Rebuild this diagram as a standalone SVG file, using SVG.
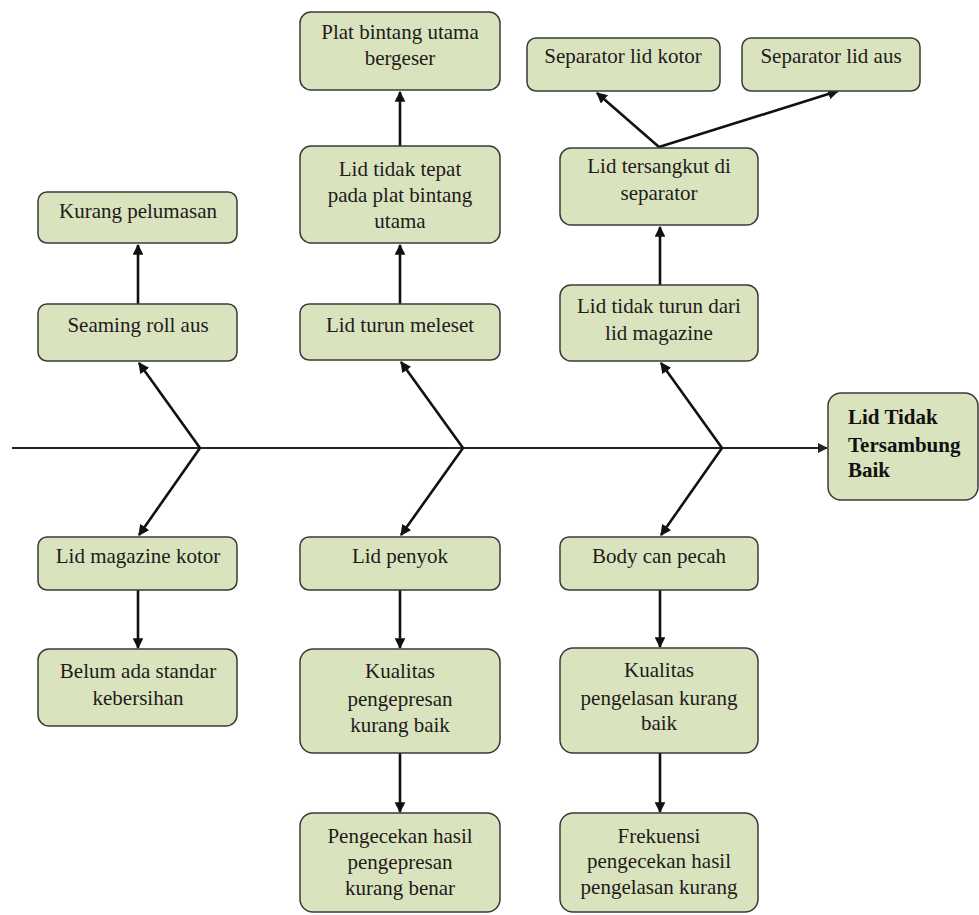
<svg xmlns="http://www.w3.org/2000/svg" width="979" height="915" viewBox="0 0 979 915">
<style>
.box{fill:#d9e4bf;stroke:#3a3a3a;stroke-width:1.5}
.t{font-family:"Liberation Serif","Times New Roman",serif;font-size:21px;fill:#231a1a;text-anchor:middle}
.tb{font-family:"Liberation Serif","Times New Roman",serif;font-size:21px;fill:#111;font-weight:bold}
.c{stroke:#111;stroke-width:2.6;fill:none;marker-end:url(#ah)}
.sp{stroke:#222;stroke-width:2;fill:none;marker-end:url(#ah2)}
</style>
<defs>
<marker id="ah" viewBox="0 0 10 10" refX="9" refY="5" markerWidth="4.2" markerHeight="4.2" orient="auto" markerUnits="strokeWidth">
<path d="M0,0 L10,5 L0,10 Z" fill="#111"/>
</marker>
<marker id="ah2" viewBox="0 0 10 10" refX="9" refY="5" markerWidth="5.5" markerHeight="5" orient="auto" markerUnits="strokeWidth">
<path d="M0,0 L10,5 L0,10 Z" fill="#222"/>
</marker>
</defs>
<rect width="979" height="915" fill="#fff"/>
<g id="connectors">
<line class="sp" x1="12" y1="448" x2="827" y2="448"/>
<polyline class="c" points="200,448 139,363" />
<polyline class="c" points="200,448 139,535" />
<polyline class="c" points="463,448 401,362" />
<polyline class="c" points="463,448 401,535" />
<polyline class="c" points="722,448 661,363" />
<polyline class="c" points="722,448 661,535" />
<line class="c" x1="138" y1="304" x2="138" y2="245"/>
<line class="c" x1="400" y1="304" x2="400" y2="245"/>
<line class="c" x1="400" y1="146" x2="400" y2="92"/>
<line class="c" x1="660" y1="285" x2="660" y2="227"/>
<line class="c" x1="659" y1="147" x2="597" y2="93"/>
<line class="c" x1="659" y1="147" x2="838" y2="91"/>
<line class="c" x1="138" y1="590" x2="138" y2="648"/>
<line class="c" x1="400" y1="590" x2="400" y2="648"/>
<line class="c" x1="400" y1="753" x2="400" y2="812"/>
<line class="c" x1="660" y1="590" x2="660" y2="647"/>
<line class="c" x1="660" y1="753" x2="660" y2="812"/>
</g>
<g id="kurang-pelumasan"><rect class="box" x="38" y="192" width="199" height="51" rx="9"/><text class="t" x="138" y="218">Kurang pelumasan</text></g>
<g id="seaming-roll-aus"><rect class="box" x="38" y="304" width="199" height="57" rx="9"/><text class="t" x="138" y="332">Seaming roll aus</text></g>
<g id="plat-bintang"><rect class="box" x="300" y="12" width="200" height="78" rx="11"/><text class="t" x="400" y="39">Plat bintang utama</text><text class="t" x="400" y="65">bergeser</text></g>
<g id="lid-tidak-tepat"><rect class="box" x="300" y="146" width="200" height="97" rx="11"/><text class="t" x="400" y="176">Lid tidak tepat</text><text class="t" x="400" y="202">pada plat bintang</text><text class="t" x="400" y="228">utama</text></g>
<g id="lid-turun-meleset"><rect class="box" x="300" y="304" width="200" height="56" rx="9"/><text class="t" x="400" y="332">Lid turun meleset</text></g>
<g id="separator-lid-kotor"><rect class="box" x="527" y="38" width="193" height="53" rx="9"/><text class="t" x="623" y="63">Separator lid kotor</text></g>
<g id="separator-lid-aus"><rect class="box" x="742" y="38" width="178" height="53" rx="9"/><text class="t" x="831" y="63">Separator lid aus</text></g>
<g id="lid-tersangkut"><rect class="box" x="560" y="148" width="198" height="77" rx="11"/><text class="t" x="659" y="173">Lid tersangkut di</text><text class="t" x="659" y="200">separator</text></g>
<g id="lid-tidak-turun"><rect class="box" x="560" y="285" width="198" height="76" rx="11"/><text class="t" x="659" y="313">Lid tidak turun dari</text><text class="t" x="659" y="340">lid magazine</text></g>
<g id="lid-tidak-tersambung"><rect class="box" x="828" y="393" width="150" height="107" rx="13"/><text class="tb" x="848" y="424">Lid Tidak</text><text class="tb" x="848" y="452">Tersambung</text><text class="tb" x="848" y="477">Baik</text></g>
<g id="lid-magazine-kotor"><rect class="box" x="38" y="537" width="199" height="53" rx="9"/><text class="t" x="138" y="563">Lid magazine kotor</text></g>
<g id="lid-penyok"><rect class="box" x="300" y="537" width="200" height="53" rx="9"/><text class="t" x="400" y="563">Lid penyok</text></g>
<g id="body-can-pecah"><rect class="box" x="560" y="537" width="198" height="53" rx="9"/><text class="t" x="659" y="563">Body can pecah</text></g>
<g id="belum-ada-standar"><rect class="box" x="38" y="649" width="199" height="77" rx="11"/><text class="t" x="138" y="678">Belum ada standar</text><text class="t" x="138" y="705">kebersihan</text></g>
<g id="kualitas-pengepresan"><rect class="box" x="300" y="649" width="200" height="104" rx="13"/><text class="t" x="400" y="678">Kualitas</text><text class="t" x="400" y="706">pengepresan</text><text class="t" x="400" y="732">kurang baik</text></g>
<g id="kualitas-pengelasan"><rect class="box" x="560" y="648" width="198" height="105" rx="13"/><text class="t" x="659" y="677">Kualitas</text><text class="t" x="659" y="705">pengelasan kurang</text><text class="t" x="659" y="730">baik</text></g>
<g id="pengecekan-hasil"><rect class="box" x="300" y="813" width="200" height="99" rx="13"/><text class="t" x="400" y="843">Pengecekan hasil</text><text class="t" x="400" y="869">pengepresan</text><text class="t" x="400" y="895">kurang benar</text></g>
<g id="frekuensi"><rect class="box" x="560" y="813" width="198" height="99" rx="13"/><text class="t" x="659" y="843">Frekuensi</text><text class="t" x="659" y="868">pengecekan hasil</text><text class="t" x="659" y="894">pengelasan kurang</text></g>
</svg>
